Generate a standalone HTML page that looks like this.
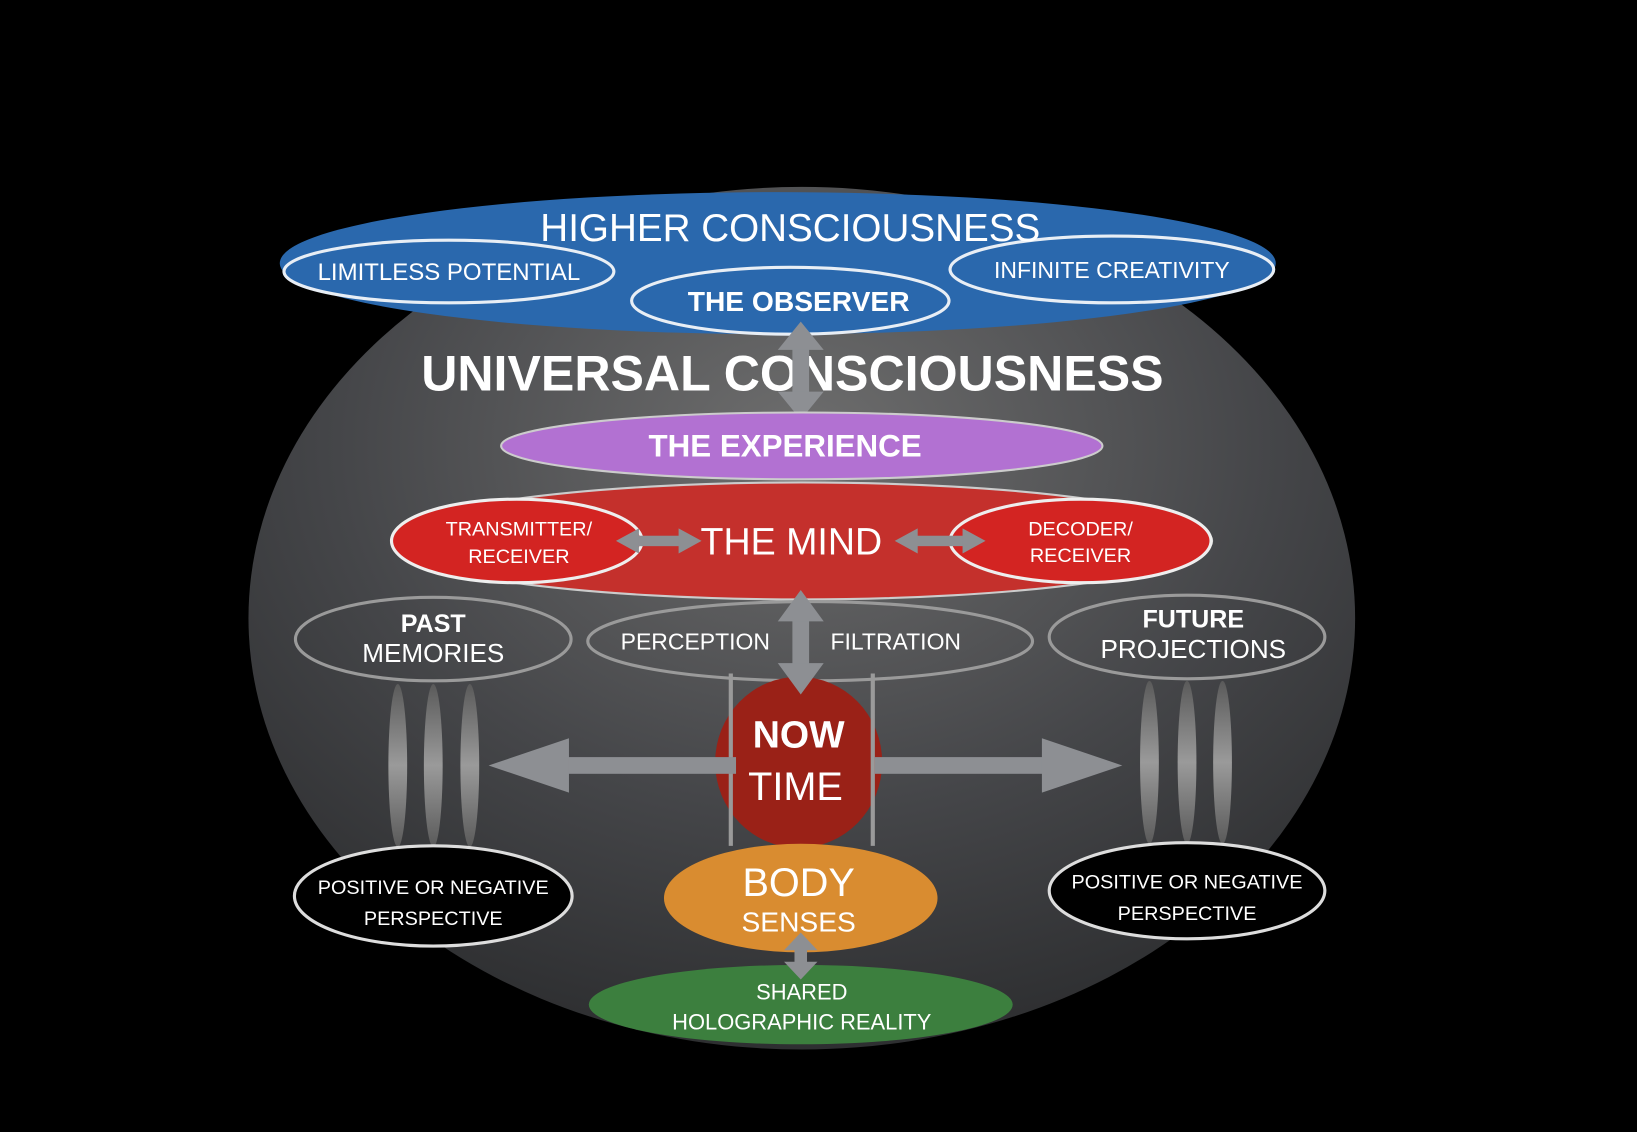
<!DOCTYPE html>
<html><head><meta charset="utf-8"><style>
html,body{margin:0;padding:0;background:#000;}
svg{display:block;}
text{font-family:"Liberation Sans",sans-serif;fill:#fff;text-anchor:middle;}
</style></head><body>
<svg width="1637" height="1132" viewBox="0 0 1568 1084" preserveAspectRatio="none" xmlns="http://www.w3.org/2000/svg">
<defs>
<radialGradient id="bg" cx="0.5" cy="0.3" r="0.7">
<stop offset="0" stop-color="#6e6e6e"/><stop offset="0.6" stop-color="#454649"/><stop offset="1" stop-color="#2e2f31"/>
</radialGradient>
<linearGradient id="lens" x1="0" y1="0" x2="0" y2="1">
<stop offset="0" stop-color="#5a5a5a"/><stop offset="0.5" stop-color="#9a9a9a"/><stop offset="1" stop-color="#5a5a5a"/>
</linearGradient>
</defs>
<rect width="1568" height="1084" fill="#000"/>
<ellipse cx="768" cy="592" rx="530" ry="413" fill="url(#bg)"/>

<!-- blue -->
<ellipse cx="745" cy="252" rx="477" ry="68" fill="#2a68ad"/>
<ellipse cx="430" cy="260" rx="158" ry="30" fill="#2a68ad" stroke="#e8eef5" stroke-width="3"/>
<ellipse cx="1065" cy="258" rx="155" ry="32" fill="#2a68ad" stroke="#e8eef5" stroke-width="3"/>
<ellipse cx="757" cy="288" rx="152" ry="32" fill="#2a68ad" stroke="#e8eef5" stroke-width="3"/>
<text x="757" y="231" font-size="37">HIGHER CONSCIOUSNESS</text>
<text x="430" y="268" font-size="23">LIMITLESS POTENTIAL</text>
<text x="1065" y="266" font-size="22">INFINITE CREATIVITY</text>
<text x="765" y="298" font-size="27" font-weight="bold">THE OBSERVER</text>

<text x="759" y="374" font-size="48" font-weight="bold">UNIVERSAL CONSCIOUSNESS</text>
<!-- vertical arrow top -->
<g fill="#8d8f93">
<rect x="759" y="330" width="16" height="50"/>
<polygon points="767,308 745,335 789,335"/>
<polygon points="767,402 745,375 789,375"/>
</g>

<ellipse cx="768" cy="427" rx="288" ry="32" fill="#b271d2" stroke="#ccc" stroke-width="2"/>
<text x="752" y="437" font-size="30" font-weight="bold">THE EXPERIENCE</text>

<!-- mind -->
<ellipse cx="768" cy="518" rx="393" ry="56" fill="#c4302c" stroke="#ccc" stroke-width="2"/>
<ellipse cx="495" cy="518" rx="120" ry="40" fill="#d32422" stroke="#eee" stroke-width="3"/>
<ellipse cx="1035" cy="518" rx="125" ry="40" fill="#d32422" stroke="#eee" stroke-width="3"/>
<text x="497" y="513" font-size="19">TRANSMITTER/</text>
<text x="497" y="539" font-size="19">RECEIVER</text>
<text x="1035" y="513" font-size="19">DECODER/</text>
<text x="1035" y="538" font-size="19">RECEIVER</text>
<text x="758" y="531" font-size="36">THE MIND</text>
<g fill="#8d8f93">
<rect x="605" y="513" width="50" height="10"/>
<polygon points="590,518 612,506 612,530"/><polygon points="672,518 650,506 650,530"/>
<rect x="872" y="513" width="55" height="10"/>
<polygon points="857,518 879,506 879,530"/><polygon points="944,518 922,506 922,530"/>
</g>

<!-- middle ellipses -->
<g fill="none" stroke="#9a9a9a" stroke-width="3">
<ellipse cx="415" cy="612" rx="132" ry="40"/>
<ellipse cx="776" cy="614" rx="213" ry="38"/>
<ellipse cx="1137" cy="610" rx="132" ry="40"/>
</g>
<text x="415" y="605" font-size="24" font-weight="bold">PAST</text>
<text x="415" y="634" font-size="25">MEMORIES</text>
<text x="666" y="622" font-size="22">PERCEPTION</text>
<text x="858" y="622" font-size="22">FILTRATION</text>
<text x="1143" y="601" font-size="24" font-weight="bold">FUTURE</text>
<text x="1143" y="630" font-size="25">PROJECTIONS</text>

<!-- lens -->
<g fill="url(#lens)">
<ellipse cx="381" cy="733" rx="9" ry="78"/><ellipse cx="415" cy="733" rx="9" ry="78"/><ellipse cx="450" cy="733" rx="9" ry="78"/>
<ellipse cx="1101" cy="730" rx="9" ry="78"/><ellipse cx="1137" cy="730" rx="9" ry="78"/><ellipse cx="1171" cy="730" rx="9" ry="78"/>
</g>

<!-- now -->
<ellipse cx="765" cy="730" rx="80" ry="82" fill="#9a2117"/>
<g stroke="#9a9a9a" stroke-width="4"><line x1="700" y1="645" x2="700" y2="810"/><line x1="836" y1="645" x2="836" y2="810"/></g>
<g fill="#8d8f93">
<rect x="540" y="725" width="165" height="16"/>
<polygon points="468,733 545,707 545,759"/>
<rect x="838" y="725" width="165" height="16"/>
<polygon points="1075,733 998,707 998,759"/>
<rect x="759" y="590" width="16" height="50"/>
<polygon points="767,565 745,595 789,595"/>
<polygon points="767,665 745,635 789,635"/>
</g>
<text x="765" y="716" font-size="36" font-weight="bold">NOW</text>
<text x="762" y="766" font-size="38">TIME</text>

<ellipse cx="415" cy="858" rx="133" ry="48" fill="#000" stroke="#ddd" stroke-width="3"/>
<ellipse cx="1137" cy="853" rx="132" ry="46" fill="#000" stroke="#ddd" stroke-width="3"/>
<text x="415" y="856" font-size="19">POSITIVE OR NEGATIVE</text>
<text x="415" y="886" font-size="19">PERSPECTIVE</text>
<text x="1137" y="851" font-size="19">POSITIVE OR NEGATIVE</text>
<text x="1137" y="881" font-size="19">PERSPECTIVE</text>

<ellipse cx="767" cy="860" rx="131" ry="52" fill="#d98c30"/>
<text x="765" y="858" font-size="38">BODY</text>
<text x="765" y="892" font-size="27">SENSES</text>

<ellipse cx="767" cy="962" rx="203" ry="38" fill="#3c7f3e"/>
<g fill="#8d8f93">
<rect x="761" y="905" width="12" height="22"/>
<polygon points="767,893 751,910 783,910"/><polygon points="767,938 751,921 783,921"/>
</g>
<text x="768" y="957" font-size="21">SHARED</text>
<text x="768" y="986" font-size="21">HOLOGRAPHIC REALITY</text>
</svg>
</body></html>
